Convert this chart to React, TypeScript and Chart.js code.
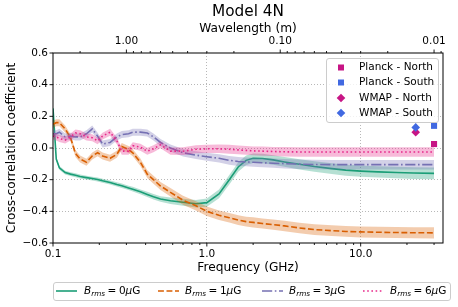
import React, { useEffect, useRef } from 'react';
import { Chart, registerables } from 'chart.js';
Chart.register(...registerables);

const FONT = "'DejaVu Sans', 'Liberation Sans', sans-serif";

// ---- data ----
const freqGHz = [0.1, 0.105, 0.11, 0.12, 0.13, 0.14, 0.15, 0.165, 0.18, 0.195, 0.21, 0.235, 0.26, 0.28, 0.31, 0.33, 0.37, 0.41, 0.45, 0.5, 0.58, 0.7, 0.85, 1.0, 1.2, 1.4, 1.6, 1.8, 2.0, 2.3, 2.7, 3.2, 4, 5, 6.5, 8, 10, 13, 17, 22, 30];

const corr0 = [0.25, -0.07, -0.125, -0.155, -0.165, -0.172, -0.18, -0.187, -0.193, -0.199, -0.207, -0.218, -0.23, -0.238, -0.252, -0.26, -0.277, -0.293, -0.308, -0.322, -0.333, -0.343, -0.352, -0.345, -0.29, -0.2, -0.12, -0.078, -0.065, -0.066, -0.075, -0.088, -0.103, -0.117, -0.13, -0.14, -0.146, -0.151, -0.155, -0.158, -0.16];
const err0 = [0.012, 0.012, 0.012, 0.012, 0.012, 0.012, 0.012, 0.012, 0.012, 0.012, 0.013, 0.013, 0.013, 0.014, 0.014, 0.015, 0.015, 0.016, 0.017, 0.018, 0.02, 0.022, 0.024, 0.026, 0.028, 0.03, 0.03, 0.03, 0.03, 0.03, 0.03, 0.031, 0.032, 0.033, 0.034, 0.035, 0.035, 0.036, 0.036, 0.037, 0.037];

const corr1 = [0.15, 0.16, 0.16, 0.12, 0.065, -0.035, -0.07, -0.09, -0.05, -0.03, -0.05, -0.065, -0.04, 0.01, -0.01, -0.03, -0.09, -0.165, -0.2, -0.24, -0.28, -0.33, -0.365, -0.4, -0.425, -0.44, -0.455, -0.465, -0.47, -0.477, -0.484, -0.492, -0.505, -0.515, -0.522, -0.527, -0.53, -0.532, -0.534, -0.535, -0.536];
const err1 = [0.022, 0.022, 0.022, 0.022, 0.022, 0.022, 0.022, 0.022, 0.022, 0.022, 0.022, 0.022, 0.022, 0.022, 0.022, 0.022, 0.023, 0.024, 0.025, 0.026, 0.027, 0.028, 0.029, 0.03, 0.03, 0.03, 0.031, 0.031, 0.032, 0.032, 0.032, 0.033, 0.033, 0.034, 0.034, 0.034, 0.035, 0.035, 0.035, 0.035, 0.035];

const corr3 = [0.09, 0.09, 0.1, 0.07, 0.075, 0.07, 0.07, 0.09, 0.12, 0.075, 0.025, 0.035, 0.07, 0.085, 0.09, 0.1, 0.1, 0.095, 0.07, 0.035, 0.0, -0.03, -0.045, -0.055, -0.065, -0.078, -0.085, -0.088, -0.09, -0.093, -0.096, -0.099, -0.102, -0.104, -0.105, -0.105, -0.105, -0.105, -0.105, -0.105, -0.105];
const err3 = [0.022, 0.022, 0.022, 0.022, 0.022, 0.022, 0.022, 0.022, 0.022, 0.022, 0.022, 0.022, 0.022, 0.022, 0.022, 0.022, 0.022, 0.022, 0.022, 0.022, 0.022, 0.023, 0.024, 0.025, 0.026, 0.027, 0.028, 0.028, 0.028, 0.029, 0.029, 0.03, 0.03, 0.03, 0.03, 0.03, 0.03, 0.03, 0.03, 0.03, 0.03];

const corr6 = [0.075, 0.07, 0.06, 0.05, 0.07, 0.095, 0.09, 0.07, 0.065, 0.045, 0.075, 0.1, 0.045, -0.02, -0.02, 0.015, 0.005, -0.02, -0.005, 0.02, -0.02, -0.02, -0.008, -0.005, -0.005, -0.008, -0.012, -0.015, -0.018, -0.02, -0.022, -0.024, -0.025, -0.025, -0.025, -0.025, -0.025, -0.025, -0.025, -0.025, -0.025];
const err6 = [0.022, 0.022, 0.022, 0.022, 0.022, 0.022, 0.022, 0.022, 0.022, 0.022, 0.022, 0.022, 0.022, 0.022, 0.022, 0.022, 0.022, 0.022, 0.022, 0.022, 0.023, 0.024, 0.025, 0.026, 0.027, 0.028, 0.028, 0.028, 0.028, 0.029, 0.029, 0.03, 0.03, 0.03, 0.03, 0.03, 0.03, 0.03, 0.03, 0.03, 0.03];

const planckFreq = [30];
const planckNorth = [0.025];
const planckSouth = [0.14];
const wmapFreq = [22.8];
const wmapNorth = [0.1];
const wmapSouth = [0.13];

const seriesLabels = ['0', '1', '3', '6'];
const pointLabels = ['Planck - North', 'Planck - South', 'WMAP - North', 'WMAP - South'];

const yTicks = [-0.6, -0.4, -0.2, 0.0, 0.2, 0.4, 0.6];
const freqMajor = [0.1, 1, 10];
const freqMinor = [0.2, 0.3, 0.4, 0.5, 0.6, 0.7, 0.8, 0.9, 2, 3, 4, 5, 6, 7, 8, 9, 20, 30];
const waveMajor = [1, 0.1, 0.01];
const waveMinor = [2, 0.9, 0.8, 0.7, 0.6, 0.5, 0.4, 0.3, 0.2, 0.09, 0.08, 0.07, 0.06, 0.05, 0.04, 0.03, 0.02, 0.009];
const C_LIGHT = 0.3; // m*GHz

// ---- styles ----
const LW = 1.6;
const COLORS = ['#1b9e77', '#d95f02', '#7570b3', '#e7298a'];
const FILLS = ['rgba(27,158,119,0.32)', 'rgba(217,95,2,0.32)', 'rgba(117,112,179,0.32)', 'rgba(231,41,138,0.32)'];
const DASHES = [[], [5.9, 2.6], [10.2, 2.6, 1.6, 2.6], [1.6, 2.6]];
const NORTH = '#c71585';
const SOUTH = '#4169e1';
const X_MIN = 0.1;
const X_MAX = 34.3;

const fmtNum = (v: number, d: number) => {
  const s = Math.abs(v).toFixed(d);
  return v < -1e-9 ? '\u2212' + s : s;
};

function buildDatasets() {
  const series = [corr0, corr1, corr3, corr6];
  const errs = [err0, err1, err3, err6];
  const ds: any[] = [];
  let order = 100;
  series.forEach((vals, k) => {
    const e = errs[k];
    ds.push({
      data: freqGHz.map((f, i) => ({ x: f, y: vals[i] + e[i] })),
      borderColor: 'transparent', borderWidth: 0, pointRadius: 0, fill: false, order: order--,
    });
    ds.push({
      data: freqGHz.map((f, i) => ({ x: f, y: vals[i] - e[i] })),
      borderColor: 'transparent', borderWidth: 0, pointRadius: 0, fill: '-1', backgroundColor: FILLS[k], order: order--,
    });
    ds.push({
      data: freqGHz.map((f, i) => ({ x: f, y: vals[i] })),
      borderColor: COLORS[k], borderWidth: LW, borderDash: DASHES[k], pointRadius: 0, fill: false, order: order--,
    });
  });
  const pts = [
    { xs: planckFreq, ys: planckNorth, color: NORTH, style: 'rect', r: 4.3 },
    { xs: planckFreq, ys: planckSouth, color: SOUTH, style: 'rect', r: 4.3 },
    { xs: wmapFreq, ys: wmapNorth, color: NORTH, style: 'rectRot', r: 4.3 },
    { xs: wmapFreq, ys: wmapSouth, color: SOUTH, style: 'rectRot', r: 4.3 },
  ];
  pts.forEach((p) => {
    ds.push({
      data: p.xs.map((x, i) => ({ x, y: p.ys[i] })),
      showLine: false, pointStyle: p.style, pointRadius: p.r, pointBackgroundColor: p.color,
      pointBorderColor: p.color, pointBorderWidth: 0, borderColor: p.color, fill: false, order: order--,
    });
  });
  return ds;
}

function drawMarker(ctx: CanvasRenderingContext2D, style: string, x: number, y: number, color: string) {
  ctx.fillStyle = color;
  ctx.beginPath();
  if (style === 'rect') {
    ctx.rect(x - 3, y - 3, 6, 6);
  } else {
    const r = 4.3;
    ctx.moveTo(x - r, y); ctx.lineTo(x, y - r); ctx.lineTo(x + r, y); ctx.lineTo(x, y + r); ctx.closePath();
  }
  ctx.fill();
}

function roundRect(ctx: CanvasRenderingContext2D, x: number, y: number, w: number, h: number, r: number) {
  ctx.beginPath();
  ctx.moveTo(x + r, y);
  ctx.lineTo(x + w - r, y); ctx.arcTo(x + w, y, x + w, y + r, r);
  ctx.lineTo(x + w, y + h - r); ctx.arcTo(x + w, y + h, x + w - r, y + h, r);
  ctx.lineTo(x + r, y + h); ctx.arcTo(x, y + h, x, y + h - r, r);
  ctx.lineTo(x, y + r); ctx.arcTo(x, y, x + r, y, r);
  ctx.closePath();
}

function drawBLabel(ctx: CanvasRenderingContext2D, x: number, y: number, val: string) {
  ctx.fillStyle = '#000';
  ctx.textAlign = 'left';
  ctx.textBaseline = 'middle';
  ctx.font = `italic 10.5px ${FONT}`;
  ctx.fillText('B', x, y); x += ctx.measureText('B').width;
  ctx.font = `italic 7.3px ${FONT}`;
  ctx.fillText('rms', x, y + 3); x += ctx.measureText('rms').width + 2.5;
  ctx.font = `10.5px ${FONT}`;
  ctx.fillText('=', x, y); x += ctx.measureText('=').width + 2.5;
  ctx.fillText(val, x, y); x += ctx.measureText(val).width;
  ctx.font = `italic 10.5px ${FONT}`;
  ctx.fillText('\u03bc', x, y); x += ctx.measureText('\u03bc').width;
  ctx.font = `10.5px ${FONT}`;
  ctx.fillText('G', x, y);
}

const decorPlugin = {
  id: 'decor',
  afterDraw(chart: any) {
    const { ctx, chartArea: a, scales } = chart;
    ctx.save();
    // frame
    ctx.strokeStyle = '#000';
    ctx.lineWidth = 1;
    ctx.setLineDash([]);
    ctx.strokeRect(a.left, a.top, a.right - a.left, a.bottom - a.top);
    // tick marks
    ctx.lineWidth = 0.9;
    ctx.beginPath();
    scales.x.ticks.forEach((t: any) => {
      const px = scales.x.getPixelForValue(t.value);
      const len = t.major ? 3.5 : 2;
      ctx.moveTo(px, a.bottom); ctx.lineTo(px, a.bottom + len);
    });
    scales.x2.ticks.forEach((t: any) => {
      const px = scales.x2.getPixelForValue(t.value);
      const len = t.major ? 3.5 : 2;
      ctx.moveTo(px, a.top); ctx.lineTo(px, a.top - len);
    });
    scales.y.ticks.forEach((t: any) => {
      const py = scales.y.getPixelForValue(t.value);
      ctx.moveTo(a.left, py); ctx.lineTo(a.left - 3.5, py);
    });
    ctx.stroke();

    // title
    ctx.fillStyle = '#000';
    ctx.font = `15.3px ${FONT}`;
    ctx.textAlign = 'center';
    ctx.textBaseline = 'middle';
    ctx.fillText('Model 4N', (a.left + a.right) / 2, 12);

    // upper-right legend
    ctx.fillStyle = 'rgba(255,255,255,0.8)';
    ctx.strokeStyle = '#cccccc';
    ctx.lineWidth = 1;
    roundRect(ctx, 326.5, 58.5, 112, 64, 2.5);
    ctx.fill(); ctx.stroke();
    const styles = ['rect', 'rect', 'rectRot', 'rectRot'];
    const cols = [NORTH, SOUTH, NORTH, SOUTH];
    const rowsY = [67.5, 82.5, 98, 113];
    pointLabels.forEach((lab, i) => {
      drawMarker(ctx, styles[i], 341, rowsY[i], cols[i]);
      ctx.fillStyle = '#000';
      ctx.font = `10.5px ${FONT}`;
      ctx.textAlign = 'left';
      ctx.textBaseline = 'middle';
      ctx.fillText(lab, 359, rowsY[i]);
    });

    // bottom legend
    ctx.fillStyle = 'rgba(255,255,255,0.8)';
    ctx.strokeStyle = '#cccccc';
    roundRect(ctx, 53.5, 282.5, 397, 18, 2.5);
    ctx.fill(); ctx.stroke();
    const lx = [56, 158, 262, 363];
    const tx = [84, 185, 289, 390];
    const ly = 291;
    seriesLabels.forEach((v, i) => {
      ctx.strokeStyle = COLORS[i];
      ctx.lineWidth = LW;
      ctx.setLineDash(DASHES[i]);
      ctx.beginPath();
      ctx.moveTo(lx[i], ly); ctx.lineTo(lx[i] + 21, ly);
      ctx.stroke();
      ctx.setLineDash([]);
      drawBLabel(ctx, tx[i], ly, v);
    });
    ctx.restore();
  },
};

export default function App() {
  const ref = useRef<HTMLCanvasElement | null>(null);
  useEffect(() => {
    document.body.style.margin = '0';
    const canvas = ref.current;
    if (!canvas) return;
    const tickFont = { family: FONT, size: 10.5 };
    const titleFont = { family: FONT, size: 12.2 };
    const chart = new Chart(canvas, {
      type: 'line',
      data: { datasets: buildDatasets() },
      options: {
        responsive: false,
        animation: false,
        devicePixelRatio: 1,
        layout: { padding: { left: 0, right: 15, top: 0, bottom: 29 } },
        plugins: { legend: { display: false }, title: { display: false }, tooltip: { enabled: false } },
        elements: { line: { tension: 0 } },
        scales: {
          x: {
            type: 'logarithmic', position: 'bottom', min: X_MIN, max: X_MAX,
            afterBuildTicks: (s: any) => {
              s.ticks = [...freqMajor.map((v) => ({ value: v, major: true })), ...freqMinor.map((v) => ({ value: v, major: false }))].sort((p, q) => p.value - q.value);
            },
            afterFit: (s: any) => { s.height = 35; },
            ticks: {
              autoSkip: false, maxRotation: 0, padding: 5, font: tickFont, color: '#000',
              callback: (v: any, i: number, ticks: any[]) => (ticks[i] && ticks[i].major ? Number(v).toFixed(1) : ''),
            },
            grid: {
              drawTicks: false, drawOnChartArea: true, lineWidth: 0.9,
              color: (c: any) => (c.tick && c.tick.major && c.tick.value > 0.11 ? '#b0b0b0' : 'rgba(0,0,0,0)'),
            },
            border: { display: false, dash: [1, 2] },
            title: { display: true, text: 'Frequency (GHz)', font: titleFont, color: '#000', padding: { top: 0, bottom: 2.8 } },
          },
          x2: {
            type: 'logarithmic', position: 'top', min: X_MIN, max: X_MAX,
            afterBuildTicks: (s: any) => {
              s.ticks = [...waveMajor.map((l) => ({ value: C_LIGHT / l, major: true })), ...waveMinor.map((l) => ({ value: C_LIGHT / l, major: false }))].sort((p, q) => p.value - q.value);
            },
            afterFit: (s: any) => { s.height = 53; },
            ticks: {
              autoSkip: false, maxRotation: 0, padding: 5, font: tickFont, color: '#000',
              callback: (v: any, i: number, ticks: any[]) => (ticks[i] && ticks[i].major ? (C_LIGHT / Number(v)).toFixed(2) : ''),
            },
            grid: { drawTicks: false, drawOnChartArea: false },
            border: { display: false },
            title: { display: true, text: 'Wavelength (m)', font: titleFont, color: '#000', padding: { top: 21.8, bottom: 0 } },
          },
          y: {
            type: 'linear', position: 'left', min: -0.6, max: 0.6,
            afterBuildTicks: (s: any) => { s.ticks = yTicks.map((v) => ({ value: v })); },
            afterFit: (s: any) => { s.width = 53; },
            ticks: { padding: 5, font: tickFont, color: '#000', callback: (v: any) => fmtNum(Number(v), 1) },
            grid: {
              drawTicks: false, lineWidth: 0.9,
              color: (c: any) => (c.tick && Math.abs(Math.abs(c.tick.value) - 0.6) > 1e-6 ? '#b0b0b0' : 'rgba(0,0,0,0)'),
            },
            border: { display: false, dash: [1, 2] },
            title: { display: true, text: 'Cross-correlation coefficient', font: titleFont, color: '#000', padding: { top: 4.3, bottom: 0 } },
          },
        },
      } as any,
      plugins: [decorPlugin],
    });
    return () => chart.destroy();
  }, []);
  return (
    <div style={{ position: 'absolute', left: 0, top: 0, width: 458, height: 307, background: '#fff' }}>
      <canvas ref={ref} width={458} height={307} />
    </div>
  );
}
